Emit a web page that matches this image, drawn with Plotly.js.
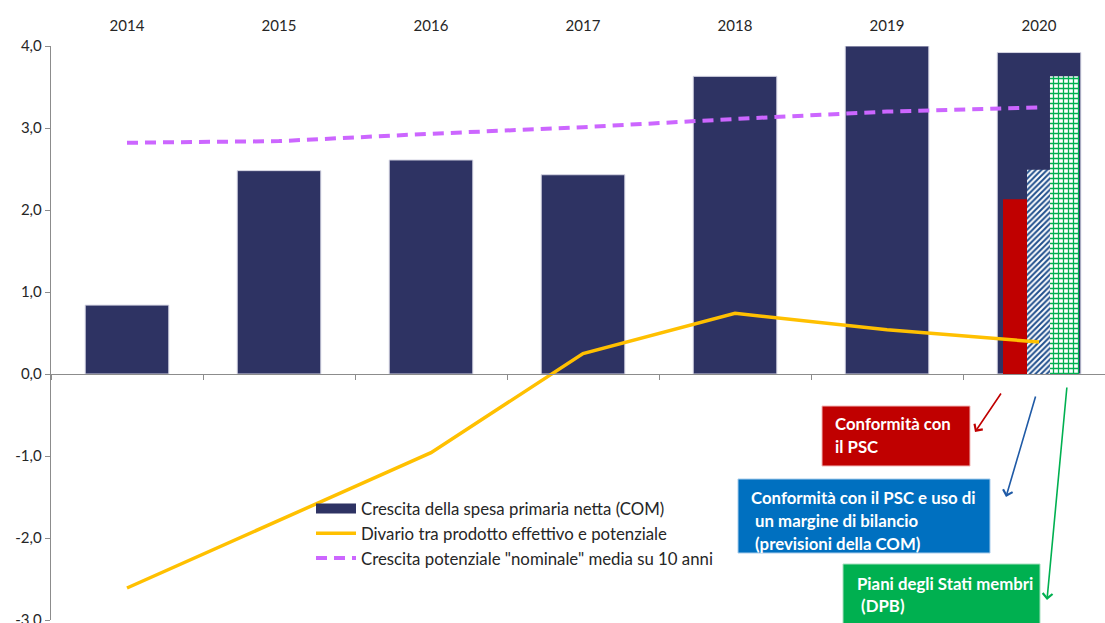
<!DOCTYPE html>
<html>
<head>
<meta charset="utf-8">
<script src="https://cdn.plot.ly/plotly-3.0.1.min.js"></script>
<style>html,body{margin:0;padding:0;background:#fff;}#chart{width:1105px;height:623px;}</style>
</head>
<body>
<div id="chart"></div>
<script>
// ---- data ----
const years = ['2014', '2015', '2016', '2017', '2018', '2019', '2020'];
const netPrimarySpending = [0.84, 2.48, 2.61, 2.43, 3.63, 4.00, 3.92];
const outputGap = [-2.61, -1.78, -0.96, 0.25, 0.74, 0.54, 0.39];
const potentialGrowth10y = [2.82, 2.84, 2.93, 3.01, 3.11, 3.20, 3.25];
const year2020 = ['2020'];
const pscCompliance = [2.13];
const pscWithMargin = [2.49];
const memberStatePlans = [3.63];
const yTickValues = [-3, -2, -1, 0, 1, 2, 3, 4];
const yTickLabels = ['-3,0', '-2,0', '-1,0', '0,0', '1,0', '2,0', '3,0', '4,0'];
const seriesNames = [
  'Crescita della spesa primaria netta (COM)',
  'Divario tra prodotto effettivo e potenziale',
  'Crescita potenziale "nominale" media su 10 anni'
];
const boxRed = ['Conformità con', 'il PSC'];
const boxBlue = ['Conformità con il PSC e uso di', ' un margine di bilancio', ' (previsioni della COM)'];
const boxGreen = ['Piani degli Stati membri', ' (DPB)'];

const NAVY = '#2E3363', YELLOW = '#FFC000', PURPLE = '#CC66FF';
const RED = '#C00000', BLUE = '#0070C0', GREEN = '#00B050';
const FONT = 'Lato, "Open Sans", sans-serif';

const traces = [
  {type: 'bar', x: years, y: netPrimarySpending, width: 0.55, showlegend: false,
   marker: {color: NAVY, line: {color: '#D6D6E4', width: 1}}, hoverinfo: 'y'},
  {type: 'bar', x: year2020, y: pscCompliance, offset: -0.237, width: 0.158, showlegend: false,
   marker: {color: RED, line: {width: 0}}},
  {type: 'bar', x: year2020, y: pscWithMargin, offset: -0.079, width: 0.151, showlegend: false,
   marker: {color: '#ffffff', line: {width: 0},
            pattern: {shape: '/', fgcolor: '#1F4E8C', bgcolor: '#ffffff', size: 4, solidity: 0.5}}},
  {type: 'bar', x: year2020, y: memberStatePlans, offset: 0.072, width: 0.191, showlegend: false,
   marker: {color: '#ffffff', line: {width: 0},
            pattern: {shape: '+', fgcolor: GREEN, bgcolor: '#ffffff', size: 5, solidity: 0.45}}},
  // legend proxy for the bars
  {type: 'scatter', mode: 'lines', x: [null], y: [null], name: seriesNames[0], legendgroup: 'a',
   line: {color: NAVY, width: 10}},
  {type: 'scatter', mode: 'lines', x: years, y: outputGap, name: seriesNames[1], legendgroup: 'b',
   line: {color: YELLOW, width: 3.5}},
  {type: 'scatter', mode: 'lines', x: years, y: potentialGrowth10y, name: seriesNames[2], legendgroup: 'c',
   line: {color: PURPLE, width: 4, dash: '11px,7px'}}
];

function px2x(p) { return (p - 51) / 1054; }
function py2y(p) { return (620 - p) / 574; }

const shapes = [
  {type: 'rect', xref: 'paper', yref: 'paper', x0: px2x(822), x1: px2x(970), y0: py2y(466), y1: py2y(406),
   fillcolor: RED, line: {width: 1, color: '#F2B8B8'}},
  {type: 'rect', xref: 'paper', yref: 'paper', x0: px2x(738), x1: px2x(990), y0: py2y(553), y1: py2y(479),
   fillcolor: BLUE, line: {width: 1, color: '#A8CCEB'}},
  {type: 'rect', xref: 'paper', yref: 'paper', x0: px2x(843), x1: px2x(1040), y0: py2y(645), y1: py2y(564),
   fillcolor: GREEN, line: {width: 1, color: '#A8E0C0'}}
];

const annotations = [];
function addLines(lines, xs, ys) {
  lines.forEach((t, i) => annotations.push({
    xref: 'paper', yref: 'paper', x: px2x(xs[i]), y: py2y(ys[i]), xanchor: 'left', yanchor: 'middle',
    text: t, showarrow: false, font: {family: FONT, size: 16.8, color: '#ffffff', weight: 'bold'}
  }));
}
addLines(boxRed, [833, 833], [423, 447]);
addLines(boxBlue, [749, 749, 749], [497, 520, 543]);
addLines(boxGreen, [855, 855], [583, 605]);

function arrow(hx, hy, tx, ty, color) {
  annotations.push({xref: 'paper', yref: 'paper', x: px2x(hx), y: py2y(hy), ax: tx - hx, ay: ty - hy,
    axref: 'pixel', ayref: 'pixel', text: '', showarrow: true, arrowhead: 4, arrowsize: 1.2,
    arrowwidth: 1.6, arrowcolor: color});
}
arrow(975, 432, 1002, 392, RED);
arrow(1006, 497, 1036, 395, '#1F5AA6');
arrow(1047, 600, 1067, 386, GREEN);

const layout = {
  width: 1105, height: 623,
  margin: {l: 51, r: 0, t: 46, b: 3, pad: 0},
  paper_bgcolor: '#ffffff', plot_bgcolor: '#ffffff',
  separators: ',.',
  barmode: 'overlay',
  font: {family: FONT, size: 14, color: '#404040'},
  xaxis: {type: 'category', side: 'top', range: [-0.5, 6.434], showline: false, ticks: '',
          showgrid: false, zeroline: false, ticklabelstandoff: 11,
          tickfont: {family: FONT, size: 15, color: '#262626'}, fixedrange: true},
  xaxis2: {type: 'category', overlaying: 'x', matches: 'x', anchor: 'free', position: 3 / 7, side: 'bottom',
           showline: true, linecolor: '#8C8C8C', linewidth: 1.3, ticks: 'outside', ticklen: 5,
           tickcolor: '#8C8C8C', tickson: 'boundaries', showticklabels: false, showgrid: false,
           zeroline: false, categoryarray: years, categoryorder: 'array'},
  yaxis: {range: [-3, 4], tickmode: 'array', tickvals: yTickValues, ticktext: yTickLabels,
          showline: true, linecolor: '#8C8C8C', ticklabeloverflow: 'allow',
          linewidth: 1.3, ticks: 'outside', ticklen: 5, tickcolor: '#8C8C8C', showgrid: false,
          zeroline: false, tickfont: {family: FONT, size: 15, color: '#262626'}, fixedrange: true},
  legend: {x: px2x(311), y: py2y(491), xanchor: 'left', yanchor: 'top', bgcolor: 'rgba(0,0,0,0)',
           borderwidth: 0, tracegroupgap: 0, traceorder: 'grouped', itemwidth: 40,
           font: {family: FONT, size: 16.8, color: '#262626'}},
  shapes: shapes,
  annotations: annotations,
  showlegend: true
};

// helper trace so the zero-line axis (xaxis2) with boundary ticks is drawn
traces.push({type: 'scatter', x: years, y: years.map(() => null), xaxis: 'x2', showlegend: false, hoverinfo: 'skip'});

Plotly.newPlot('chart', traces, layout, {displayModeBar: false, staticPlot: true});
</script>
</body>
</html>
